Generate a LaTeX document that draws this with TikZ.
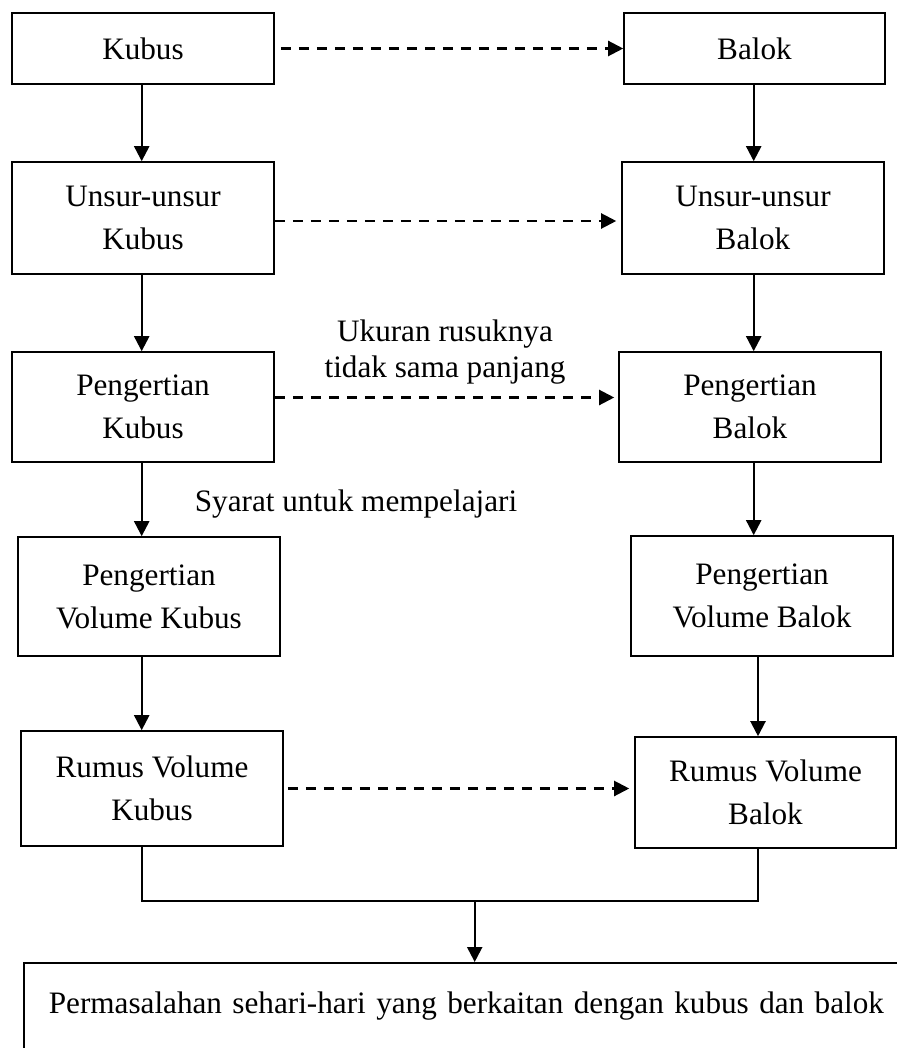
\documentclass[tikz,border=0pt]{standalone}
\usepackage{fontspec}
\setmainfont{Liberation Serif}
\usetikzlibrary{arrows.meta}
\begin{document}
\begin{tikzpicture}[x=0.5pt,y=-0.5pt,
  box/.style={draw, line width=0.8pt, minimum width=131pt, align=center, inner sep=0pt, font=\fontsize{15.6}{21.5}\selectfont},
  lbl/.style={font=\fontsize{15.6}{18.35}\selectfont, align=center, inner sep=0pt},
  arr/.style={line width=1.1pt, -{Triangle[length=7.5pt,width=7.5pt]}},
  darr/.style={arr, dash pattern=on 5pt off 4pt},
  link/.style={line width=1pt}]
\useasboundingbox (0,0) rectangle (897,1048);
\clip (0,0) rectangle (897,1048);

\node[box, minimum height=35.5pt] (K1) at (143,48.5) {Kubus};
\node[box, minimum width=130.5pt, minimum height=35.5pt] (B1) at (754.5,48.5) {Balok};
\node[box, minimum height=56pt] (K2) at (143,218) {Unsur-unsur\\Kubus};
\node[box, minimum height=56pt] (B2) at (753,218) {Unsur-unsur\\Balok};
\node[box, minimum height=55pt] (K3) at (143,407) {Pengertian\\Kubus};
\node[box, minimum height=55pt] (B3) at (750,407) {Pengertian\\Balok};
\node[box, minimum height=59.5pt] (K4) at (149,596.5) {Pengertian\\Volume Kubus};
\node[box, minimum height=60pt] (B4) at (762,596) {Pengertian\\Volume Balok};
\node[box, minimum height=57.5pt] (K5) at (152,788.5) {Rumus Volume\\Kubus};
\node[box, minimum width=130.5pt, minimum height=55.5pt] (B5) at (765.5,792.5) {Rumus Volume\\Balok};

\node[draw, line width=0.8pt, anchor=north west, inner xsep=12.5pt, inner ysep=0pt,
      text width=430pt, text height=25.5pt, text depth=30pt, align=left,
      font=\fontsize{15.6}{21.5}\selectfont] (bot) at (23,962)
      {Permasalahan sehari-hari yang berkaitan dengan kubus dan balok};

\node[lbl] (uk) at (445,352) {Ukuran rusuknya\\tidak sama panjang};
\node[lbl, anchor=base] (sy) at (356,511.7) {Syarat untuk mempelajari};

\coordinate (cL) at (141.7,0);
\coordinate (cR) at (753.7,0);
\coordinate (cR2) at (758,0);
\coordinate (J) at (474.7,901);

\draw[arr] (K1.south -| cL) -- (K2.north -| cL);
\draw[arr] (K2.south -| cL) -- (K3.north -| cL);
\draw[arr] (K3.south -| cL) -- (K4.north -| cL);
\draw[arr] (K4.south -| cL) -- (K5.north -| cL);
\draw[arr] (B1.south -| cR) -- (B2.north -| cR);
\draw[arr] (B2.south -| cR) -- (B3.north -| cR);
\draw[arr] (B3.south -| cR) -- (B4.north -| cR);
\draw[arr] (B4.south -| cR2) -- (B5.north -| cR2);

\draw[darr, shorten <=3pt] (K1.east) -- (K1.east -| B1.west);
\draw[darr, shorten >=2.5pt] ([yshift=-1.5pt]K2.east) -- ([yshift=-1.5pt]K2.east -| B2.west);
\draw[darr, shorten >=2pt] ([yshift=4.75pt]K3.east) -- ([yshift=4.75pt]K3.east -| B3.west);
\draw[darr, shorten <=2pt, shorten >=2.5pt] (K5.east) -- (K5.east -| B5.west);

\draw[link] (K5.south -| cL) -- (cL |- J) -- (J -| cR2) -- (B5.south -| cR2);
\draw[arr] (J) -- (J |- bot.north);
\end{tikzpicture}
\end{document}
